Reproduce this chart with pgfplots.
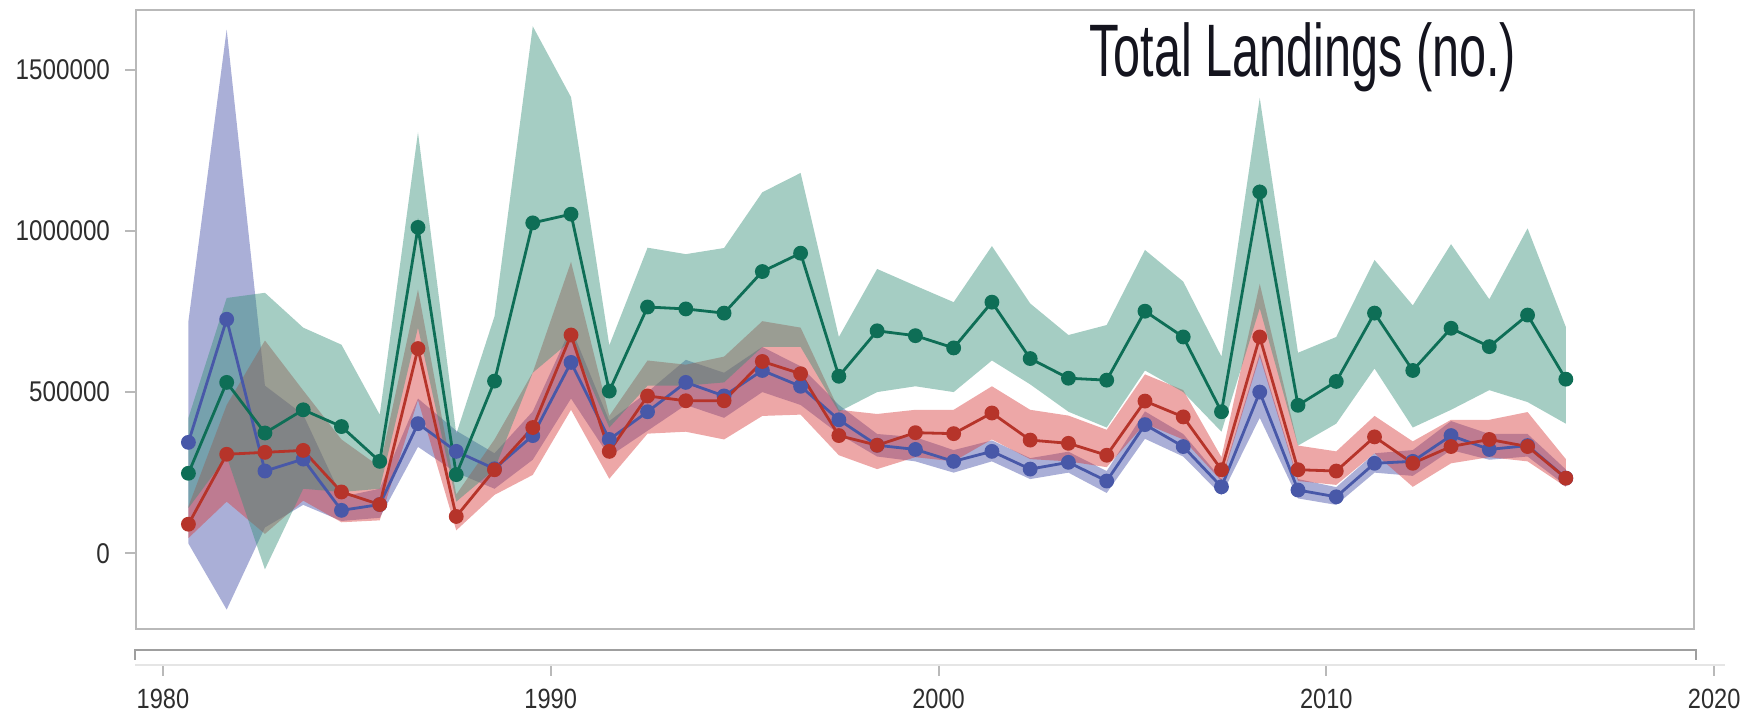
\documentclass[border=0pt]{standalone}
\usepackage{pgfplots}
\usepackage{pgfplotstable}
\pgfplotsset{compat=1.18}
\usepackage{fontspec}
\setmainfont{Liberation Sans}
\definecolor{gline}{RGB}{14,110,86}
\definecolor{gfill}{RGB}{55,144,122}
\definecolor{rline}{RGB}{182,52,42}
\definecolor{rfill}{RGB}{215,60,60}
\definecolor{bline}{RGB}{72,88,168}
\definecolor{bfill}{RGB}{67,78,167}
\definecolor{lab}{RGB}{45,45,45}
\definecolor{frame}{RGB}{185,185,185}
\newcommand{\tl}[1]{\scalebox{1}[1.18]{#1}}

% central estimates
\pgfplotstableread{
x g r b
1980 248000 90000 344000
1981 530000 307000 726000
1982 373000 313000 255000
1983 445000 319000 292000
1984 393000 190000 133000
1985 285000 151000 151000
1986 1011000 635000 402000
1987 244000 114000 316000
1988 534000 259000 262000
1989 1025000 390000 365000
1990 1052000 677000 592000
1991 503000 316000 353000
1992 764000 488000 439000
1993 758000 473000 530000
1994 745000 473000 488000
1995 874000 595000 567000
1996 931000 557000 518000
1997 549000 365000 414000
1998 690000 335000 335000
1999 675000 374000 322000
2000 637000 371000 285000
2001 779000 435000 316000
2002 604000 351000 261000
2003 543000 341000 282000
2004 537000 304000 224000
2005 751000 472000 399000
2006 671000 423000 331000
2007 439000 259000 206000
2008 1121000 671000 500000
2009 459000 259000 196000
2010 533000 255000 175000
2011 745000 361000 279000
2012 567000 279000 285000
2013 698000 331000 365000
2014 641000 353000 322000
2015 739000 331000 334000
2016 540000 233000 233000
}\lines

% confidence bands: upper bound forward, lower bound backward
\pgfplotstableread[row sep=\\]{
x y\\
1980 420000\\ 1981 792000\\ 1982 808000\\ 1983 700000\\ 1984 647000\\ 1985 430000\\ 1986 1306000\\ 1987 370000\\ 1988 735000\\ 1989 1635000\\
1990 1415000\\ 1991 645000\\ 1992 948000\\ 1993 928000\\ 1994 947000\\ 1995 1120000\\ 1996 1180000\\ 1997 671000\\ 1998 882000\\ 1999 830000\\
2000 779000\\ 2001 953000\\ 2002 775000\\ 2003 677000\\ 2004 708000\\ 2005 941000\\ 2006 843000\\ 2007 610000\\ 2008 1413000\\ 2009 622000\\
2010 671000\\ 2011 910000\\ 2012 769000\\ 2013 959000\\ 2014 788000\\ 2015 1008000\\ 2016 702000\\
2016 402000\\ 2015 469000\\ 2014 506000\\ 2013 445000\\ 2012 390000\\ 2011 573000\\ 2010 402000\\ 2009 334000\\ 2008 760000\\ 2007 377000\\
2006 500000\\ 2005 567000\\ 2004 390000\\ 2003 439000\\ 2002 524000\\ 2001 598000\\ 2000 500000\\ 1999 518000\\ 1998 500000\\ 1997 439000\\
1996 640000\\ 1995 640000\\ 1994 530000\\ 1993 520000\\ 1992 520000\\ 1991 390000\\ 1990 660000\\ 1989 560000\\ 1988 260000\\ 1987 160000\\
1986 700000\\ 1985 200000\\ 1984 190000\\ 1983 200000\\ 1982 -50000\\ 1981 300000\\ 1980 140000\\
}\gband

\pgfplotstableread[row sep=\\]{
x y\\
1980 145000\\ 1981 460000\\ 1982 660000\\ 1983 505000\\ 1984 353000\\ 1985 268000\\ 1986 818000\\ 1987 182000\\ 1988 353000\\ 1989 561000\\
1990 904000\\ 1991 426000\\ 1992 598000\\ 1993 585000\\ 1994 610000\\ 1995 720000\\ 1996 700000\\ 1997 445000\\ 1998 432000\\ 1999 445000\\
2000 445000\\ 2001 518000\\ 2002 445000\\ 2003 427000\\ 2004 383000\\ 2005 555000\\ 2006 506000\\ 2007 298000\\ 2008 836000\\ 2009 334000\\
2010 316000\\ 2011 426000\\ 2012 347000\\ 2013 414000\\ 2014 414000\\ 2015 438000\\ 2016 292000\\
2016 206000\\ 2015 285000\\ 2014 298000\\ 2013 279000\\ 2012 206000\\ 2011 310000\\ 2010 212000\\ 2009 224000\\ 2008 610000\\ 2007 224000\\
2006 353000\\ 2005 402000\\ 2004 267000\\ 2003 285000\\ 2002 292000\\ 2001 353000\\ 2000 285000\\ 1999 298000\\ 1998 261000\\ 1997 304000\\
1996 430000\\ 1995 426000\\ 1994 353000\\ 1993 377000\\ 1992 371000\\ 1991 231000\\ 1990 445000\\ 1989 243000\\ 1988 181000\\ 1987 71000\\
1986 475000\\ 1985 102000\\ 1984 96000\\ 1983 163000\\ 1982 60000\\ 1981 160000\\ 1980 47000\\
}\rband

\pgfplotstableread[row sep=\\]{
x y\\
1980 720000\\ 1981 1625000\\ 1982 520000\\ 1983 430000\\ 1984 175000\\ 1985 200000\\ 1986 480000\\ 1987 380000\\ 1988 310000\\ 1989 440000\\
1990 700000\\ 1991 410000\\ 1992 500000\\ 1993 600000\\ 1994 560000\\ 1995 640000\\ 1996 580000\\ 1997 460000\\ 1998 370000\\ 1999 360000\\
2000 320000\\ 2001 350000\\ 2002 295000\\ 2003 315000\\ 2004 255000\\ 2005 440000\\ 2006 370000\\ 2007 230000\\ 2008 620000\\ 2009 230000\\
2010 205000\\ 2011 310000\\ 2012 320000\\ 2013 410000\\ 2014 370000\\ 2015 370000\\ 2016 260000\\
2016 210000\\ 2015 300000\\ 2014 290000\\ 2013 320000\\ 2012 240000\\ 2011 250000\\ 2010 150000\\ 2009 170000\\ 2008 420000\\ 2007 180000\\
2006 300000\\ 2005 355000\\ 2004 187000\\ 2003 250000\\ 2002 230000\\ 2001 285000\\ 2000 250000\\ 1999 285000\\ 1998 300000\\ 1997 370000\\
1996 460000\\ 1995 500000\\ 1994 420000\\ 1993 460000\\ 1992 380000\\ 1991 300000\\ 1990 480000\\ 1989 290000\\ 1988 200000\\ 1987 250000\\
1986 330000\\ 1985 110000\\ 1984 100000\\ 1983 150000\\ 1982 80000\\ 1981 -175000\\ 1980 30000\\
}\bband

\begin{document}
\begin{tikzpicture}
\path[use as bounding box] (0pt,0pt) rectangle (872.5pt,357.5pt);
\begin{axis}[
  at={(68pt,43pt)}, anchor=south west,
  scale only axis, width=779pt, height=309.5pt,
  xmin=1978.63, xmax=2019.35,
  ymin=-235130, ymax=1685600,
  xtick=\empty,
  scaled y ticks=false,
  ytick={0,500000,1000000,1500000},
  yticklabels={\tl{0},\tl{500000},\tl{1000000},\tl{1500000}},
  ytick pos=left, tick align=outside,
  major tick length=5.5pt,
  ytick style={frame, line width=0.8pt},
  axis line style={frame, line width=0.9pt},
  yticklabel style={font=\fontsize{12.1}{14}\selectfont, text=lab, xshift=-4pt},
]
\addplot[fill=bfill, fill opacity=0.45, draw=none, forget plot] table[x=x,y=y]{\bband} -- cycle;
\addplot[fill=rfill, fill opacity=0.45, draw=none, forget plot] table[x=x,y=y]{\rband} -- cycle;
\addplot[fill=gfill, fill opacity=0.45, draw=none, forget plot] table[x=x,y=y]{\gband} -- cycle;
\addplot[bline, line width=1.4pt, mark=*, mark size=3pt, mark options={fill=bline, draw=bline}] table[x=x,y=b]{\lines};
\addplot[rline, line width=1.4pt, mark=*, mark size=3pt, mark options={fill=rline, draw=rline}] table[x=x,y=r]{\lines};
\addplot[gline, line width=1.4pt, mark=*, mark size=3pt, mark options={fill=gline, draw=gline}] table[x=x,y=g]{\lines};
\end{axis}
\node[anchor=base west, inner sep=0pt, text={rgb,255:red,20;green,20;blue,30}] at (544.5pt,319.2pt)
  {\scalebox{1}[1.53]{\fontsize{24.3}{26}\selectfont Total Landings (no.)}};
\draw[gray!75, line width=1pt] (67.5pt,27.5pt) -- (67.5pt,32.5pt) -- (848pt,32.5pt) -- (848pt,27.5pt);
\begin{axis}[
  at={(67.5pt,25pt)}, anchor=south west,
  scale only axis, width=795pt, height=5pt,
  xmin=1979.28, xmax=2020.28, ymin=0, ymax=1,
  axis y line=none, axis x line*=bottom,
  x axis line style={-, gray!20, line width=0.8pt},
  xtick={1980,1990,2000,2010,2020},
  xticklabels={\tl{1980},\tl{1990},\tl{2000},\tl{2010},\tl{2020}},
  tick align=outside, major tick length=5.5pt,
  xtick style={gray!55, line width=1pt},
  xticklabel style={font=\fontsize{11.8}{14}\selectfont, text=lab, yshift=-3pt},
]
\addplot[draw=none, forget plot] coordinates {(1980,0.5) (2020,0.5)};
\end{axis}
\end{tikzpicture}
\end{document}
